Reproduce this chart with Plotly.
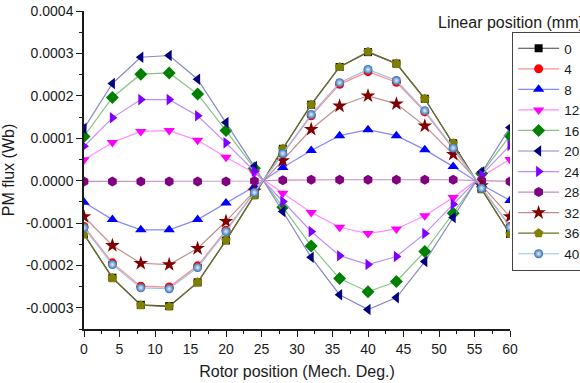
import plotly.graph_objects as go

# Rotor position (mechanical degrees)
rotor_deg = [0, 4, 8, 12, 16, 20, 24, 28, 32, 36, 40, 44, 48, 52, 56, 60]

# PM flux linkage (Wb) for each linear position (mm)
flux_0 = [-1.26e-4, -2.29e-4, -2.93e-4, -2.96e-4, -2.40e-4, -1.41e-4, -0.34e-4, 0.75e-4,
          1.79e-4, 2.68e-4, 3.03e-4, 2.76e-4, 1.93e-4, 0.88e-4, -0.20e-4, -1.26e-4]
flux_4 = [-1.08e-4, -1.94e-4, -2.49e-4, -2.51e-4, -2.01e-4, -1.17e-4, -0.27e-4, 0.62e-4,
          1.53e-4, 2.27e-4, 2.57e-4, 2.32e-4, 1.62e-4, 0.75e-4, -0.18e-4, -1.08e-4]
flux_8 = [-0.51e-4, -0.92e-4, -1.16e-4, -1.16e-4, -0.92e-4, -0.53e-4, -0.14e-4, 0.31e-4,
          0.71e-4, 1.06e-4, 1.20e-4, 1.06e-4, 0.73e-4, 0.33e-4, -0.10e-4, -0.47e-4]
flux_12 = [0.49e-4, 0.90e-4, 1.16e-4, 1.18e-4, 0.95e-4, 0.55e-4, 0.18e-4, -0.30e-4,
           -0.75e-4, -1.10e-4, -1.25e-4, -1.14e-4, -0.83e-4, -0.40e-4, 0.10e-4, 0.50e-4]
flux_16 = [1.04e-4, 1.96e-4, 2.51e-4, 2.54e-4, 2.04e-4, 1.18e-4, 0.29e-4, -0.63e-4,
           -1.54e-4, -2.31e-4, -2.62e-4, -2.38e-4, -1.67e-4, -0.77e-4, 0.17e-4, 1.06e-4]
flux_20 = [1.23e-4, 2.29e-4, 2.91e-4, 2.95e-4, 2.39e-4, 1.37e-4, 0.33e-4, -0.73e-4,
           -1.81e-4, -2.69e-4, -3.04e-4, -2.76e-4, -1.91e-4, -0.87e-4, 0.20e-4, 1.25e-4]
flux_24 = [0.81e-4, 1.48e-4, 1.91e-4, 1.91e-4, 1.53e-4, 0.89e-4, 0.22e-4, -0.49e-4,
           -1.20e-4, -1.77e-4, -1.98e-4, -1.79e-4, -1.25e-4, -0.56e-4, 0.13e-4, 0.83e-4]
flux_28 = [-0.02e-4, -0.02e-4, -0.02e-4, -0.02e-4, -0.02e-4, -0.02e-4, -0.01e-4, 0.01e-4,
           0.02e-4, 0.02e-4, 0.02e-4, 0.02e-4, 0.02e-4, 0.02e-4, 0.00e-4, -0.02e-4]
flux_32 = [-0.85e-4, -1.53e-4, -1.95e-4, -1.98e-4, -1.60e-4, -0.96e-4, -0.25e-4, 0.47e-4,
           1.21e-4, 1.76e-4, 2.00e-4, 1.81e-4, 1.29e-4, 0.62e-4, -0.12e-4, -0.85e-4]
flux_36 = [-1.27e-4, -2.30e-4, -2.94e-4, -2.97e-4, -2.40e-4, -1.41e-4, -0.35e-4, 0.75e-4,
           1.79e-4, 2.68e-4, 3.04e-4, 2.76e-4, 1.93e-4, 0.88e-4, -0.20e-4, -1.26e-4]
flux_40 = [-1.11e-4, -1.98e-4, -2.53e-4, -2.55e-4, -2.05e-4, -1.20e-4, -0.28e-4, 0.64e-4,
           1.56e-4, 2.31e-4, 2.62e-4, 2.36e-4, 1.65e-4, 0.77e-4, -0.18e-4, -1.10e-4]

series_names = ["0", "4", "8", "12", "16", "20", "24", "28", "32", "36", "40"]
series_values = [flux_0, flux_4, flux_8, flux_12, flux_16, flux_20,
                 flux_24, flux_28, flux_32, flux_36, flux_40]

x_tick_vals = [0, 5, 10, 15, 20, 25, 30, 35, 40, 45, 50, 55, 60]
y_tick_vals = [-0.0003, -0.0002, -0.0001, 0.0, 0.0001, 0.0002, 0.0003, 0.0004]
y_tick_text = ["-0.0003", "-0.0002", "-0.0001", "0.0000", "0.0001", "0.0002", "0.0003", "0.0004"]

# (marker colour, line colour, symbol, size)
styles = [
    ("#000000", "#404040", "square", 8),
    ("#ff0000", "#ff8c8c", "circle", 9),
    ("#0000ff", "#8888ff", "triangle-up", 10),
    ("#ff00ff", "#ff8cff", "triangle-down", 10),
    ("#008000", "#86c286", "diamond", 10),
    ("#000080", "#8888c4", "triangle-left", 10),
    ("#8000ff", "#c08cff", "triangle-right", 10),
    ("#800080", "#c48cc4", "hexagon", 10),
    ("#800000", "#c48c8c", "star", 11),
    ("#808000", "#6e6e2a", "pentagon", 10),
    ("#2f6db0", "#9cc0e4", "circle", 9),
]

FONT = "Arial, Liberation Sans, sans-serif"
TEXT = "#1a1a1a"

fig = go.Figure()
for name, vals, (mc, lc, sym, sz) in zip(series_names, series_values, styles):
    marker = dict(symbol=sym, size=sz, color=mc, line=dict(width=0))
    if name == "40":
        marker["gradient"] = dict(type="radial", color="#e8f2ff")
    fig.add_trace(go.Scatter(
        x=rotor_deg, y=vals, name=name, mode="lines+markers",
        line=dict(color=lc, width=1.2), marker=marker,
    ))

fig.update_layout(
    width=580, height=383,
    margin=dict(l=84, r=70, t=11, b=54, autoexpand=False),
    paper_bgcolor="white", plot_bgcolor="white",
    font=dict(family=FONT, size=14, color=TEXT),
    showlegend=True,
    legend=dict(
        x=1.005, y=0.934, xanchor="left", yanchor="top",
        bordercolor="#444444", borderwidth=1, bgcolor="white",
        font=dict(family=FONT, size=13.5, color=TEXT),
        tracegroupgap=0, itemwidth=41, entrywidth=100,
    ),
    annotations=[dict(
        text="Linear position (mm)", xref="paper", yref="paper",
        x=0.826, y=0.965, xanchor="left", yanchor="middle", showarrow=False,
        font=dict(family=FONT, size=16, color=TEXT),
    )],
)

fig.update_xaxes(
    range=[0, 60], tickvals=x_tick_vals, showgrid=False, zeroline=False,
    showline=True, linecolor="#1a1a1a", linewidth=1.5,
    ticks="outside", ticklen=6, tickwidth=1.2, tickcolor="#1a1a1a",
    minor=dict(ticks="outside", ticklen=3, tickwidth=1.2, tickcolor="#1a1a1a", dtick=2.5),
    tickfont=dict(size=14),
    title=dict(text="Rotor position (Mech. Deg.)", font=dict(size=16), standoff=10),
)
fig.update_yaxes(
    range=[-0.00035, 0.0004], tickvals=y_tick_vals, ticktext=y_tick_text,
    showgrid=False, zeroline=False,
    showline=True, linecolor="#1a1a1a", linewidth=1.5,
    ticks="outside", ticklen=6, tickwidth=1.2, tickcolor="#1a1a1a",
    minor=dict(ticks="outside", ticklen=3, tickwidth=1.2, tickcolor="#1a1a1a",
               tickvals=[-0.00035, -0.00025, -0.00015, -0.00005, 0.00005, 0.00015, 0.00025, 0.00035]),
    tickfont=dict(size=14),
    title=dict(text="PM flux (Wb)", font=dict(size=16), standoff=8),
)

fig.write_html("out.html")
